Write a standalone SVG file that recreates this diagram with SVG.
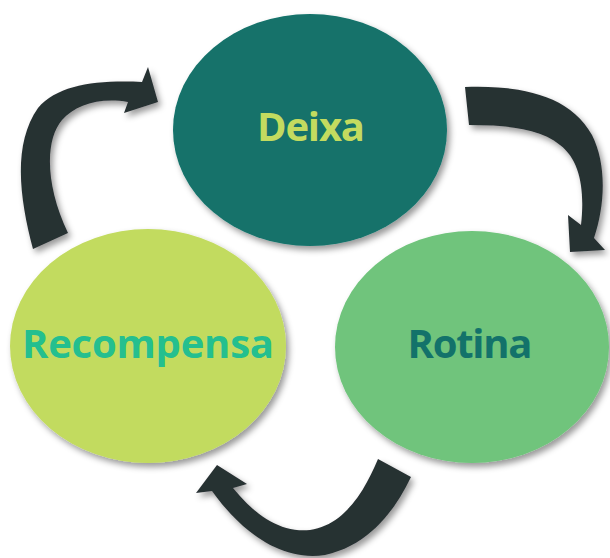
<svg xmlns="http://www.w3.org/2000/svg" width="610" height="558" viewBox="0 0 610 558">
  <defs>
    <filter id="sh" x="-20%" y="-20%" width="140%" height="140%">
      <feDropShadow dx="3" dy="4" stdDeviation="3" flood-color="#000" flood-opacity="0.4"/>
    </filter>
    <style>
      .lbl { font-family: "Open Sans", "Lato", sans-serif; font-weight: bold; font-size: 40px; text-anchor: middle; }
      .arr { fill: #283033; filter: url(#sh); }
    </style>
  </defs>
  <rect width="610" height="558" fill="#ffffff"/>
  <g id="connectors">
    <path class="arr" d="M33,249 C20,200 12,145 38,108 C58,85 95,80 142,82 L148,67 L158,102 L124,113 L128,102 C100,97 75,105 62,120 C45,140 45,185 68,233 Z"/>
    <path class="arr" d="M465,87 C520,85 570,95 592,135 C607,165 605,205 594,238 L605,250 L570,252 L568,215 L581,225 C585,190 580,160 560,145 C540,128 505,125 469,125 Z"/>
    <path class="arr" d="M378,459 L411,477 C395,510 370,545 325,555 C280,562 240,530 212,491 L196,493 L217,465 L247,484 L233,488 C255,515 280,533 310,530 C345,525 365,490 378,459 Z"/>
  </g>
  <g id="deixa">
    <ellipse cx="310" cy="130" rx="137" ry="116" fill="#13726a" filter="url(#sh)"/>
    <text class="lbl" x="311" y="141" fill="#c3db5f" textLength="108">Deixa</text>
  </g>
  <g id="recompensa">
    <ellipse cx="148" cy="346" rx="138" ry="117" fill="#c2db5f" filter="url(#sh)"/>
    <text class="lbl" x="148" y="358" fill="#24bf8f" textLength="252">Recompensa</text>
  </g>
  <g id="rotina">
    <ellipse cx="472" cy="347" rx="137" ry="116" fill="#6fc47b" filter="url(#sh)"/>
    <text class="lbl" x="470" y="358" fill="#13726a" textLength="125">Rotina</text>
  </g>
</svg>
